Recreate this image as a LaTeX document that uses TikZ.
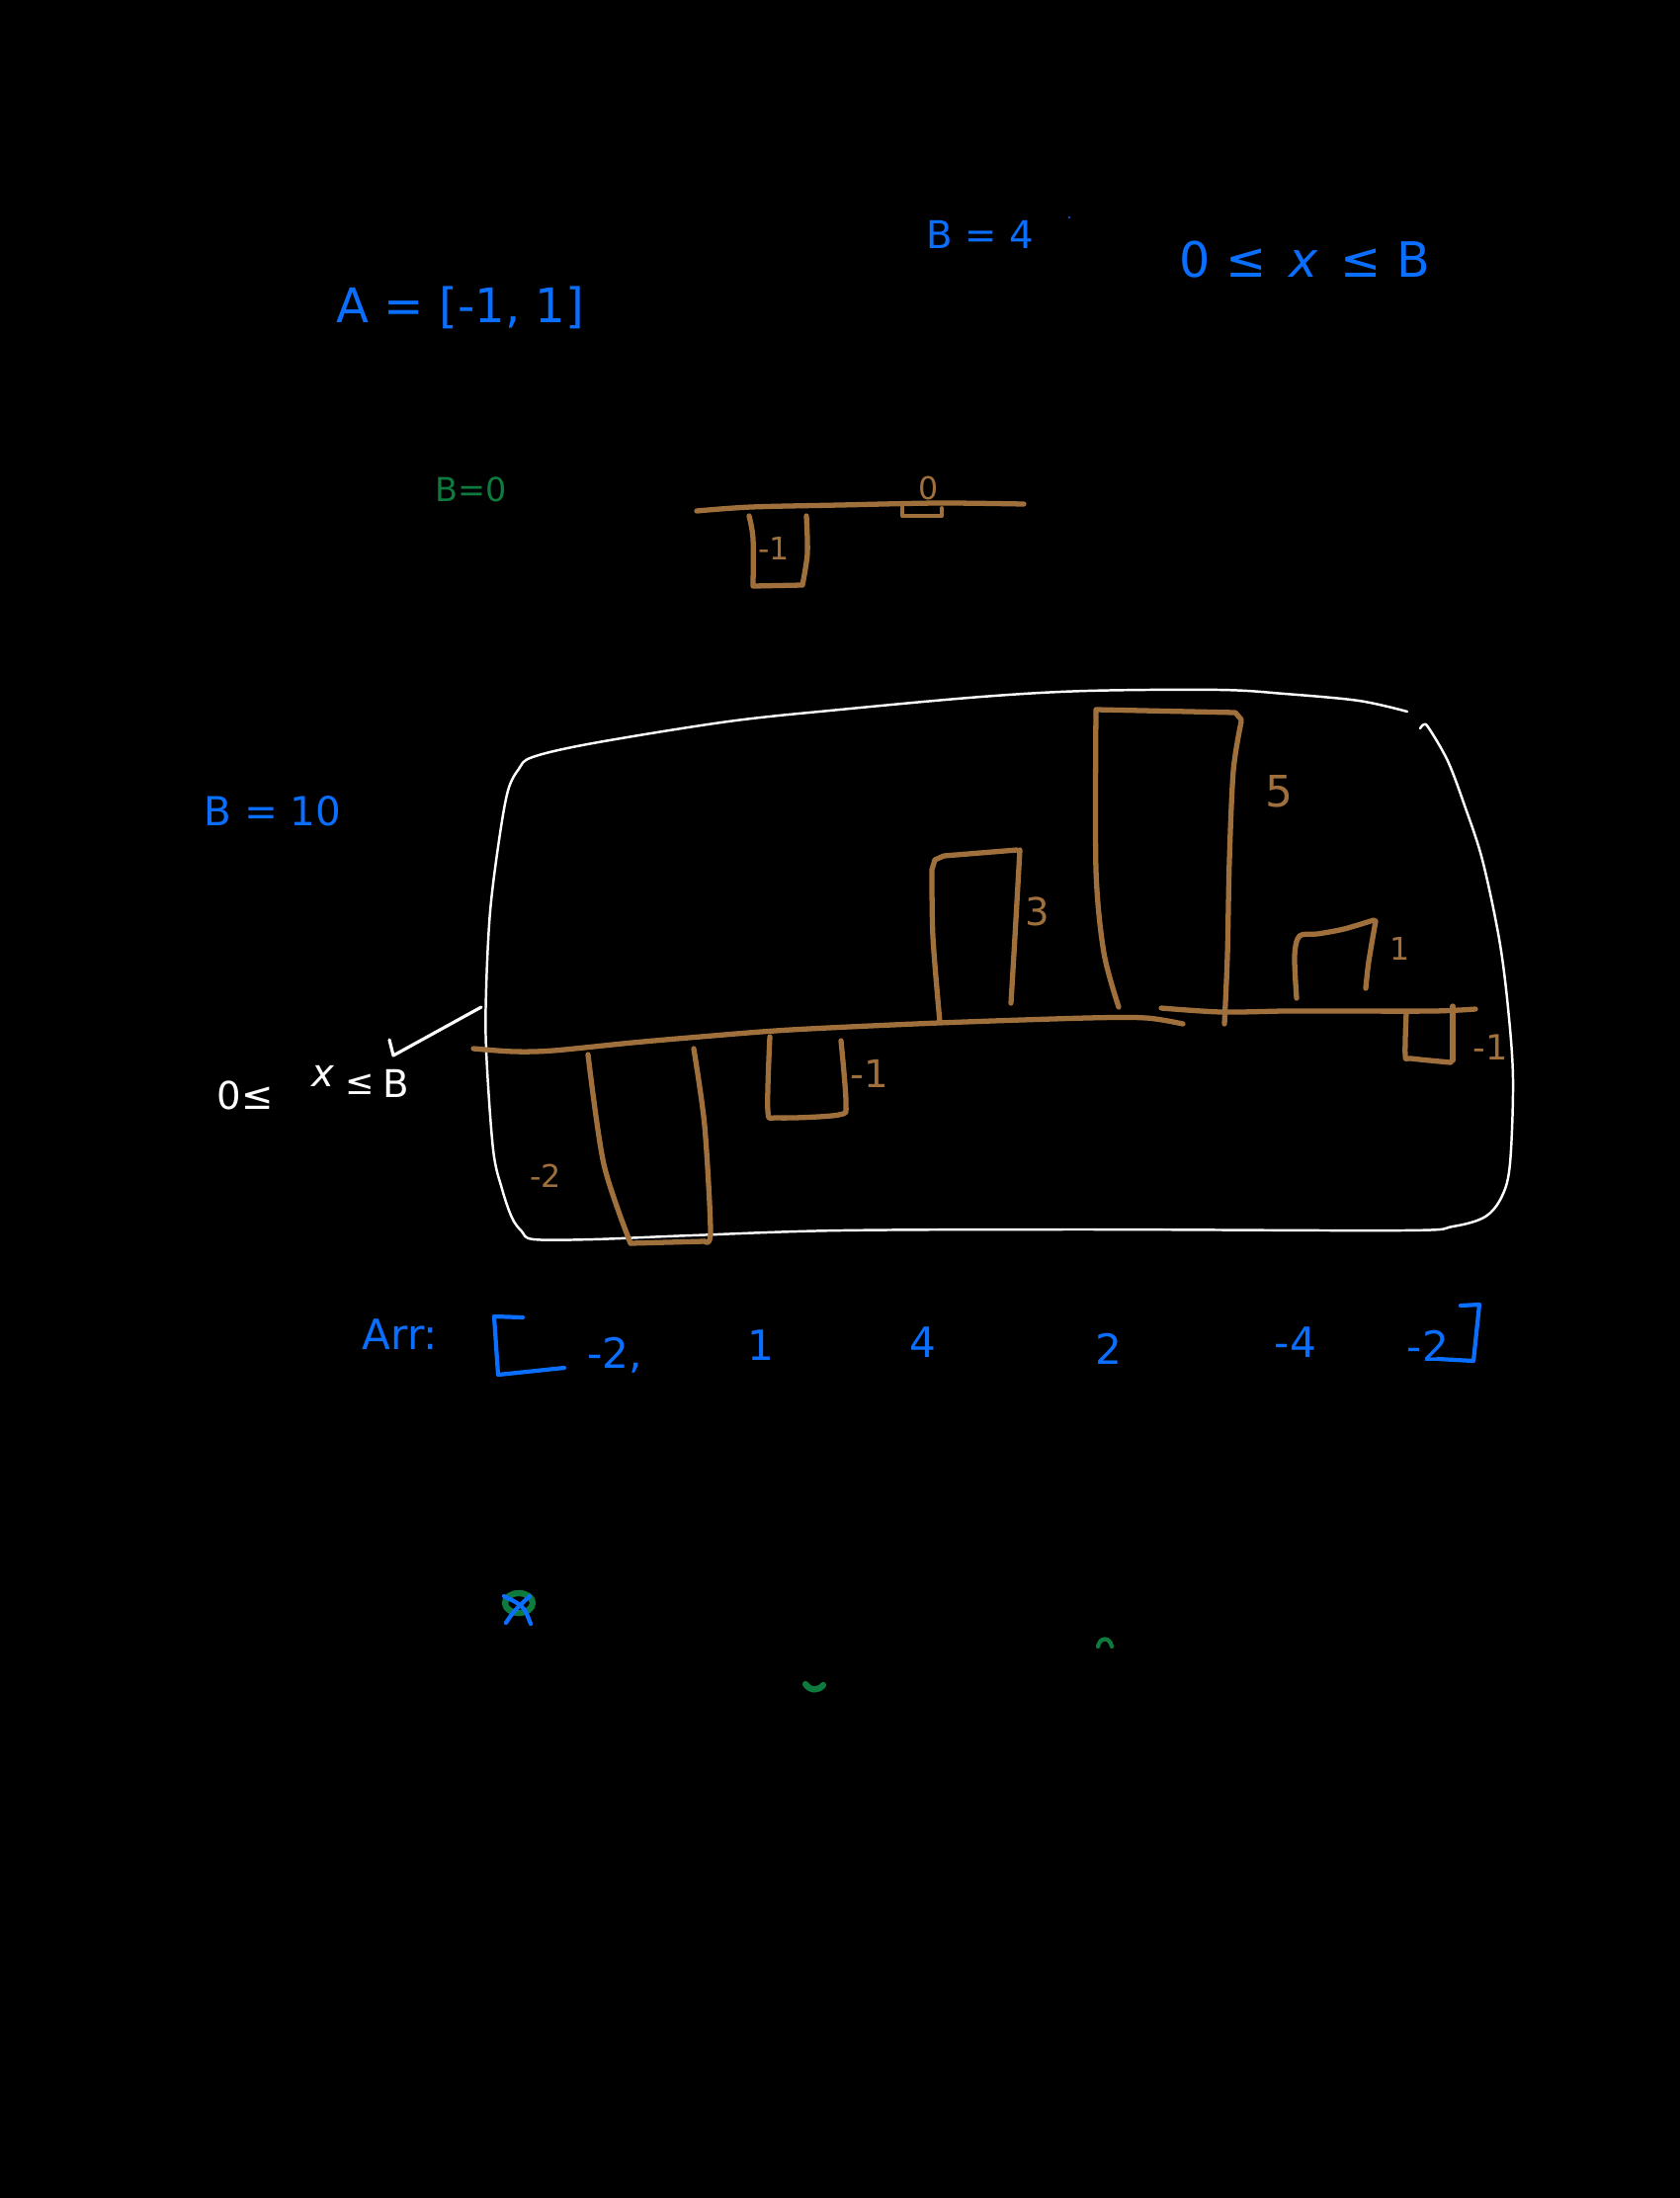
\documentclass[tikz,border=0pt]{standalone}
\usepackage{fontspec}
\setmainfont{DejaVu Sans}
\definecolor{penblue}{HTML}{0A6EFF}
\definecolor{penbrown}{HTML}{A0703C}
\definecolor{pengreen}{HTML}{0E7A3E}
\tikzset{
  bl/.style={text=penblue, font=\fontsize{#1}{#1}\selectfont, inner sep=0pt},
  brl/.style={text=penbrown, font=\fontsize{#1}{#1}\selectfont, inner sep=0pt},
  wtl/.style={text=white, font=\fontsize{#1}{#1}\selectfont, inner sep=0pt},
  grl/.style={text=pengreen, font=\fontsize{#1}{#1}\selectfont, inner sep=0pt},
  brownpen/.style={draw=penbrown, line width=1.5pt, line cap=round, line join=round},
  whitepen/.style={draw=white, line width=0.7pt, line cap=round, line join=round},
  bluepen/.style={draw=penblue, line width=1.2pt, line cap=round, line join=round},
  greenpen/.style={draw=pengreen, line width=1.2pt, line cap=round, line join=round},
}
\begin{document}
\begin{tikzpicture}[x=0.01cm, y=-0.01cm]
\fill[black] (0,0) rectangle (1700,2224);
\useasboundingbox (0,0) rectangle (1700,2224);

% ---- top texts ----
\node[bl=11] (b4) at (992,237) {B = 4};
\fill[penblue] (1082,220) circle (1.2);
\node[bl=14] (ineq) at (1320,263) {0 ≤ \hspace{2pt}\textit{x} \hspace{2pt}≤ B};
\node[bl=13.7] (aarr) at (466,311) {A = [-1, 1]};
\node[grl=9.5] (b0) at (477,495) {B=0};

% ---- small B=0 diagram ----
\draw[brownpen] plot[smooth, tension=0.5] coordinates {(705,517) (760,513) (850,511) (950,509) (1036,510)};
\draw[brownpen] plot[smooth, tension=0.5] coordinates {(758,522) (762,545) (762,593)} -- (812,592)
  -- plot[smooth, tension=0.5] coordinates {(812,592) (817,560) (816,522)};
\draw[brownpen, line width=1.1pt] (913,513) -- (913,522) -- (953,522) -- (953,514);
\node[brl=9] (lm1a) at (783,555) {-1};
\node[brl=9] (l0a) at (940,494) {0};

% ---- B = 10 ----
\node[bl=11.5] (b10) at (276,821) {B = 10};

% ---- big white box ----
\draw[whitepen] plot[smooth, tension=0.55] coordinates {
  (1424,720) (1375,709) (1300,702) (1234,698) (1100,699) (993,705) (850,718) (737,730)
  (600,752) (539,766) (525,778) (514,800) (505,850) (496,922) (492,1000) (492,1063)
  (499,1163) (508,1203) (518,1232) (528,1246) (540,1254) (600,1254) (700,1250) (851,1245) (1100,1244)
  (1418,1245) (1470,1241) (1503,1231) (1520,1210) (1528,1177) (1531,1092) (1526,1020)
  (1517,950) (1500,870) (1482,815) (1465,770) (1446,737) (1441,733) (1437,737)};

% ---- axis lines ----
\draw[brownpen] plot[smooth, tension=0.5] coordinates {
  (479,1061) (520,1064) (560,1063) (640,1055) (709,1049) (800,1042) (950,1035)
  (1100,1030) (1160,1030) (1197,1036)};
\draw[brownpen] plot[smooth, tension=0.5] coordinates {
  (1175,1020) (1236,1024) (1300,1023) (1350,1023) (1450,1023) (1493,1021)};

% ---- bars ----
% -2
\draw[brownpen] plot[smooth, tension=0.5] coordinates {(595,1067) (611,1178) (638,1258)};
\draw[brownpen] plot[smooth, tension=0.5] coordinates {(702,1061) (713,1139) (719,1246) (713,1256)};
\draw[brownpen] (638,1258) -- (713,1256);
% -1
\draw[brownpen] plot[smooth, tension=0.5] coordinates {(779,1049) (777,1124) (787,1131) (849,1128) (856,1116) (851,1053)};
% 3
\draw[brownpen] plot[smooth, tension=0.5] coordinates {(951,1034) (944,948) (943,880)}
  -- (946,870) -- (955,866) -- (1029,860);
\draw[brownpen] plot[smooth, tension=0.5] coordinates {(1032,860) (1027,948) (1023,1015)};
% 5
\draw[brownpen] plot[smooth, tension=0.5] coordinates {(1132,1019) (1117,964) (1109,880) (1109,718)}
  -- (1250,721) -- (1256,728);
\draw[brownpen] plot[smooth, tension=0.5] coordinates {(1256,730) (1248,780) (1244,871) (1242,967) (1239,1036)};
% 1
\draw[brownpen] plot[smooth, tension=0.5] coordinates {(1312,1010) (1310,967) (1315,947) (1333,945) (1360,940) (1390,931)};
\draw[brownpen] plot[smooth, tension=0.5] coordinates {(1392,932) (1385,973) (1382,1000)};
% -1 right
\draw[brownpen] plot[smooth, tension=0.5] coordinates {(1423,1025) (1422,1068) (1428,1071) (1468,1075)};
\draw[brownpen] (1470,1018) -- (1470,1073);

% ---- bar labels ----
\node[brl=9] (lm2) at (552,1190) {-2};
\node[brl=11] (lm1b) at (880,1086) {-1};
\node[brl=11] (l3) at (1050,922) {3};
\node[brl=12.5] (l5) at (1294,801) {5};
\node[brl=9] (l1) at (1417,960) {1};
\node[brl=10] (lm1c) at (1508,1060) {-1};

% ---- white annotation with arrow ----
\coordinate (arrS) at (487,1019);
\coordinate (arrT) at (398,1068);
\draw[whitepen, line width=0.9pt] (arrS) -- (arrT) -- ++(-4,-16);
\node[wtl=11] (w0) at (248,1108) {0≤};
\node[wtl=11] (wx) at (327,1089) {\textit{x}};
\node[wtl=10] (wle) at (364,1097) {≤};
\node[wtl=11] (wB) at (401,1096) {B};

% ---- Arr row ----
\node[bl=12] (arrlbl) at (405,1350) {Arr:};
\draw[bluepen] (529,1333) -- (500,1332) -- (504,1391) -- (571,1384);
\node[bl=12] (a1) at (622,1371) {-2,};
\node[bl=12] (a2) at (770,1361) {1};
\node[bl=12] (a3) at (934,1358) {4};
\node[bl=12] (a4) at (1122,1365) {2};
\node[bl=12] (a5) at (1311,1358) {-4};
\node[bl=12] (a6) at (1445,1362) {-2};
\draw[bluepen] (1478,1321) -- (1497,1320) -- (1491,1377) -- (1455,1375);

% ---- stray marks ----
\draw[greenpen, line width=1.8pt] (525,1622) ellipse (14 and 10);
\draw[bluepen] (510,1615) .. controls (530,1625) .. (537,1643);
\draw[bluepen] (536,1615) .. controls (520,1630) .. (512,1642);
\draw[greenpen] (1111,1666) .. controls (1113,1656) and (1123,1656) .. (1125,1666);
\draw[greenpen, line width=1.8pt] (815,1704) .. controls (820,1711) and (828,1711) .. (833,1705);
\end{tikzpicture}
\end{document}
